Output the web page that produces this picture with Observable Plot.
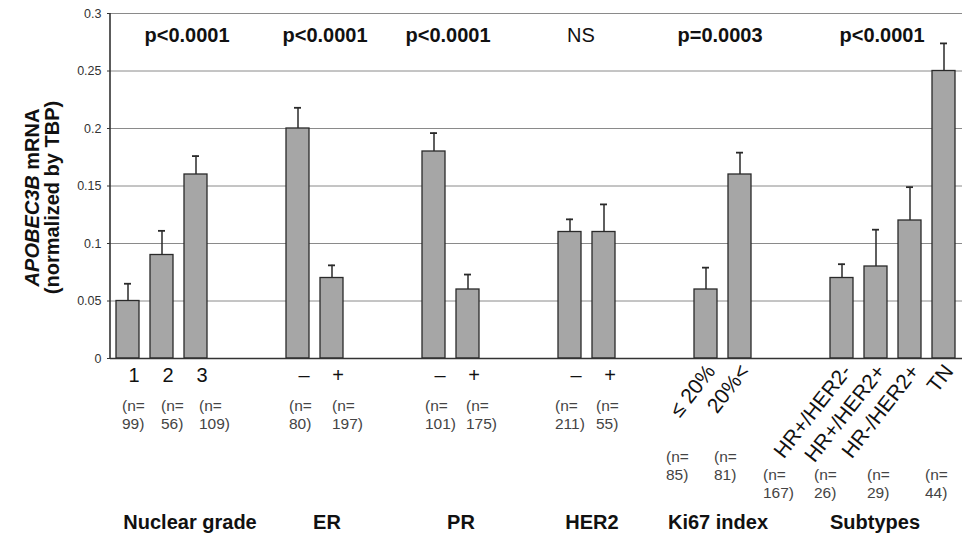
<!DOCTYPE html>
<html><head><meta charset="utf-8">
<script src="https://cdn.jsdelivr.net/npm/d3@7"></script>
<script src="https://cdn.jsdelivr.net/npm/@observablehq/plot@0.6"></script>
<style>
body{margin:0;background:#fff;}
svg{font-family:"Liberation Sans",Arial,sans-serif;}
</style>
</head><body><div id="chart"></div>
<script>
// ---- data ----
const groups = ["Nuclear grade", "ER", "PR", "HER2", "Ki67 index", "Subtypes"];
const pValues = ["p<0.0001", "p<0.0001", "p<0.0001", "NS", "p=0.0003", "p<0.0001"];
const pBold = [true, true, true, false, true, true];
const group = ["Nuclear grade","Nuclear grade","Nuclear grade","ER","ER","PR","PR","HER2","HER2",
               "Ki67 index","Ki67 index","Subtypes","Subtypes","Subtypes","Subtypes"];
const category = ["1","2","3","–","+","–","+","–","+","≤ 20%","20%<","HR+/HER2-","HR+/HER2+","HR-/HER2+","TN"];
const mean  = [0.05, 0.09, 0.16, 0.20, 0.07, 0.18, 0.06, 0.11, 0.11, 0.06, 0.16, 0.07, 0.08, 0.12, 0.25];
const upper = [0.065, 0.111, 0.176, 0.218, 0.081, 0.196, 0.073, 0.121, 0.134, 0.079, 0.179, 0.082, 0.112, 0.149, 0.274];
const nCount = [99, 56, 109, 80, 197, 101, 175, 211, 55, 85, 81, 167, 26, 29, 44];
const yTicks = [0, 0.05, 0.1, 0.15, 0.2, 0.25, 0.3];

// ---- build table ----
const rows = category.map((c, i) => ({key: group[i] + "|" + c, group: group[i], category: c,
  mean: mean[i], upper: upper[i], n: nCount[i]}));
const domain = [];
groups.forEach((g, gi) => {
  if (gi > 0) domain.push("gap" + gi + "a", "gap" + gi + "b");
  rows.filter(r => r.group === g).forEach(r => domain.push(r.key));
});

// ---- layout / style ----
const W = 965, H = 536, mL = 110, mR = 3, mT = 13, mB = 178;
const padIn = 0.32, padOut = 0.18;
const step = d3.scaleBand(domain, [mL, W - mR]).paddingInner(padIn).paddingOuter(padOut).step();
const rotated = new Set(["Ki67 index", "Subtypes"]);
const nRowDy = {"Ki67 index": 107, "Subtypes": 125};
const nDx = {"Nuclear grade|1": -6, "Nuclear grade|2": -1, "Nuclear grade|3": 3,
  "ER|–": -9, "ER|+": 0, "PR|–": -9, "PR|+": -2, "HER2|–": -15, "HER2|+": -8,
  "Ki67 index|≤ 20%": -40, "Ki67 index|20%<": -26,
  "Subtypes|HR+/HER2-": -79, "Subtypes|HR+/HER2+": -62, "Subtypes|HR-/HER2+": -43, "Subtypes|TN": -19};
const pAdj = {"Nuclear grade": 25, "ER": 10, "PR": -3, "HER2": -6, "Ki67 index": -3, "Subtypes": -11};
const gAdj = {"Nuclear grade": 28, "ER": 12, "PR": 10, "HER2": 5, "Ki67 index": -5, "Subtypes": -18};
const ink = "#2a2a2a";

const groupMarks = groups.flatMap((g, gi) => {
  const gr = rows.filter(r => r.group === g);
  const off = (gr.length - 1) / 2 * step;
  return [
    Plot.text([gr[0]], {x: "key", y: yTicks[yTicks.length - 1], text: () => pValues[gi],
      dx: off + pAdj[g], dy: 22, fontSize: 20, fontWeight: pBold[gi] ? "bold" : "normal", fill: "#111"}),
    Plot.text([gr[0]], {x: "key", y: 0, text: () => g,
      dx: off + gAdj[g], dy: 164, fontSize: 20, fontWeight: "bold", fill: "#111"})
  ];
});

const nMarks = rows.map(r => Plot.text([r], {x: "key", y: 0, text: d => `(n=\n${d.n})`,
  textAnchor: "start", lineAnchor: "middle", lineHeight: 1.15, fontSize: 15.5, fill: "#444",
  dx: nDx[r.key], dy: nRowDy[r.group] ?? 56}));

const plot = Plot.plot({
  width: W, height: H,
  marginTop: mT, marginBottom: mB, marginLeft: mL, marginRight: mR,
  style: {fontFamily: "Liberation Sans, Arial, sans-serif", background: "#fff"},
  x: {domain, paddingInner: padIn, paddingOuter: padOut, axis: null},
  y: {domain: [0, 0.3], axis: null},
  marks: [
    Plot.ruleY(yTicks.slice(1), {stroke: "#8a8a8a", strokeWidth: 1}),
    Plot.axisY({ticks: yTicks, tickFormat: d => d3.format("~g")(d), tickSize: 3, tickPadding: 6,
      fontSize: 12.5, color: "#333", label: null}),
    Plot.barY(rows, {x: "key", y: "mean", fill: "#a6a6a6", stroke: ink, strokeWidth: 1.3}),
    Plot.ruleX(rows, {x: "key", y1: "mean", y2: "upper", stroke: ink, strokeWidth: 1.5}),
    Plot.tickY(rows, {x: "key", y: "upper", stroke: ink, strokeWidth: 1.8, insetLeft: 8, insetRight: 8}),
    Plot.ruleY([0], {stroke: "#333", strokeWidth: 1.6}),
    Plot.text(rows.filter(r => !rotated.has(r.group)), {x: "key", y: 0, text: "category",
      dx: 6, dy: 17, fontSize: 20, fill: "#111"}),
    Plot.text(rows.filter(r => rotated.has(r.group)), {x: "key", y: 0, text: "category",
      rotate: -52, textAnchor: "end", lineAnchor: "middle", dx: 5, dy: 9, fontSize: 21, fill: "#111"}),
    ...nMarks,
    ...groupMarks
  ]
});

// left axis line and rotated y label
const svg = d3.select(plot);
const yr = plot.scale("y").range;
const xr = plot.scale("x").range;
svg.append("line").attr("x1", xr[0]).attr("x2", xr[0]).attr("y1", yr[0]).attr("y2", yr[1])
  .attr("stroke", "#333").attr("stroke-width", 1.6);
const yMid = (yr[0] + yr[1]) / 2 + 12;
const lab1 = svg.append("text").attr("transform", `translate(32,${yMid}) rotate(-90)`)
  .attr("text-anchor", "middle").attr("dominant-baseline", "central")
  .attr("font-size", 20).attr("font-weight", "bold").attr("fill", "#111");
lab1.append("tspan").attr("font-style", "italic").text("APOBEC3B");
lab1.append("tspan").text(" mRNA");
svg.append("text").attr("transform", `translate(52,${yMid}) rotate(-90)`)
  .attr("text-anchor", "middle").attr("dominant-baseline", "central")
  .attr("font-size", 20).attr("font-weight", "bold").attr("fill", "#111")
  .text("(normalized by TBP)");

document.getElementById("chart").append(plot);
</script>
</body></html>
